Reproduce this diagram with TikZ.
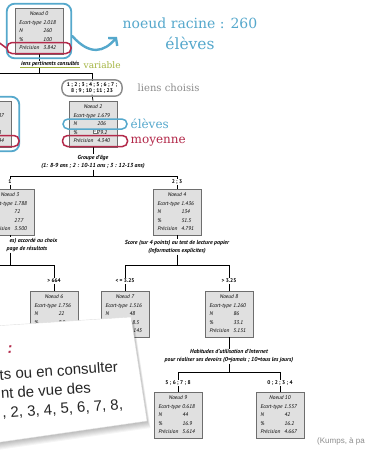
\documentclass[tikz,border=0pt]{standalone}
\usepackage{fontspec}
\setmainfont{PT Sans}
\newfontfamily\notefont{DejaVu Serif}
\newfontfamily\slidefont{Liberation Sans}
\usetikzlibrary{arrows.meta,fit,calc}

\definecolor{noteblue}{HTML}{55A8CC}
\definecolor{notered}{HTML}{B3294A}
\definecolor{notegreen}{HTML}{A3B440}
\definecolor{notegray}{HTML}{8C8C8C}
\definecolor{cellfill}{HTML}{E0E0E0}
\definecolor{cellline}{HTML}{6E6E6E}

% body of one tree cell: title row, then label / value rows
\newcommand{\spssnode}[5]{%
  \begin{tabular}{@{}p{24pt}@{}p{15pt}@{}}
    \multicolumn{2}{@{}c@{}}{Noeud #1}\\
    Ecart-type & #2\\
    N & #3\\
    \% & #4\\
    Précision & #5
  \end{tabular}}

\tikzset{
  treebox/.style={draw=cellline, fill=cellfill, line width=0.6pt, inner xsep=4pt, inner ysep=1.5pt,
    minimum width=48pt, font=\fontsize{5.4}{8.6}\selectfont\itshape},
  splitvar/.style={font=\fontsize{5.8}{8}\selectfont\bfseries\itshape, inner sep=0.6pt, align=center},
  catlabel/.style={font=\fontsize{5.4}{6.6}\selectfont\bfseries, inner sep=0.8pt, align=center},
  branch/.style={line width=0.75pt},
  bluering/.style={draw=noteblue, line width=1.8pt, rounded corners=8pt},
  redpill/.style={draw=notered, line width=1.5pt, rounded corners=5pt},
  bluepill/.style={draw=noteblue, line width=1.5pt, rounded corners=5pt},
  graypill/.style={draw=notegray, line width=1.4pt, rounded corners=7pt},
  note/.style={inner sep=0.5pt},
}

\begin{document}
\begin{tikzpicture}[x=1pt,y=-1pt]
\useasboundingbox (0,0) rectangle (366,450);
\fill[white] (0,0) rectangle (366,450);

% ---- tree cells
\node[treebox] (n0) at (39,31) {\spssnode{0}{2.018}{260}{100}{3.842}};
\node[treebox] (n1) at (-13,124) {\spssnode{1}{2.087}{54}{20.8}{1.944}};
\node[treebox] (n2) at (93,124) {\spssnode{2}{1.679}{206}{79.2}{4.340}};
\node[treebox] (n3) at (10,212) {\spssnode{3}{1.788}{72}{27.7}{3.500}};
\node[treebox] (n4) at (177,212) {\spssnode{4}{1.436}{134}{51.5}{4.791}};
\node[treebox] (n6) at (54,314) {\spssnode{6}{1.756}{22}{8.5}{}};
\node[treebox] (n7) at (125,314) {\spssnode{7}{1.516}{48}{18.5}{4.145}};
\node[treebox] (n8) at (229,314) {\spssnode{8}{1.260}{86}{33.1}{5.151}};
\node[treebox] (n9) at (178,415) {\spssnode{9}{0.618}{44}{16.9}{5.614}};
\node[treebox] (n10) at (280,415) {\spssnode{10}{1.557}{42}{16.2}{4.667}};

% collapse marker inside cell 2
\node[draw=cellline, fill=white, line width=0.4pt, minimum size=4.5pt, inner sep=0pt] (fold2) at (95,131) {};
\fill (fold2.center) circle (0.6);

% ---- split variables and category labels
\node[splitvar, anchor=east] (v0) at (80,64) {iens pertinents consultés};
\node[catlabel] (c2) at (92,88) {1 ; 2 ; 3 ; 4 ; 5 ; 6 ; 7 ;\\8 ; 9 ; 10 ; 11 ; 23};
\node[splitvar] (v2) at (93,162) {Groupe d'âge\\(1: 8-9 ans ; 2 : 10-11 ans ; 3 : 12-13 ans)};
\node[catlabel] (c3) at (10,182) {1};
\node[catlabel] (c4) at (177,182) {2 ; 3};
\node[splitvar, anchor=east] (v3a) at (58,241) {es) accordé au choix};
\node[splitvar, anchor=east] (v3b) at (48,249) {page de résultats};
\node[splitvar] (v4) at (177,247) {Score (sur 4 points) au test de lecture papier\\(Informations explicites)};
\node[catlabel] (c6) at (54,281) {> 664};
\node[catlabel] (c7) at (125,281) {< = 3.25};
\node[catlabel] (c8) at (229,281) {> 3.25};
\node[splitvar] (v8) at (229,356) {Habitudes d'utilisation d'Internet\\pour réaliser ses devoirs (0=jamais ; 10=tous les jours)};
\node[catlabel] (c9) at (178,383) {5 ; 6 ; 7 ; 8};
\node[catlabel] (c10) at (280,383) {0 ; 2 ; 3 ; 4};

% ---- bar heights
\coordinate (b0) at (0,73);
\coordinate (b2) at (0,176);
\coordinate (b3) at (0,265);
\coordinate (b4) at (0,265);
\coordinate (b8) at (0,372);
\coordinate (n5top) at (-34,290);

% ---- branches
\draw[branch] (n0.south) -- (v0.north -| n0.south);
\draw[branch] (v0.south -| n0.south) -- (b0 -| n0.south);
\draw[branch] (n1.north) -- (b0 -| n1.north) -- (b0 -| c2.north) -- (c2.north);
\draw[branch] (c2.south) -- (n2.north);

\draw[branch] (n2.south) -- (v2.north);
\draw[branch] (v2.south) -- (b2 -| v2.south);
\draw[branch] (c3.north) -- (b2 -| c3.north) -- (b2 -| c4.north) -- (c4.north);
\draw[branch] (c3.south) -- (n3.north);
\draw[branch] (c4.south) -- (n4.north);

\draw[branch] (n3.south) -- (v3a.north -| n3.south);
\draw[branch] (v3b.south -| n3.south) -- (b3 -| n3.south);
\draw[branch] (n5top) -- (b3 -| n5top) -- (b3 -| c6.north) -- (c6.north);
\draw[branch] (c6.south) -- (n6.north);

\draw[branch] (n4.south) -- (v4.north);
\draw[branch] (v4.south) -- (b4 -| v4.south);
\draw[branch] (c7.north) -- (b4 -| c7.north) -- (b4 -| c8.north) -- (c8.north);
\draw[branch] (c7.south) -- (n7.north);
\draw[branch] (c8.south) -- (n8.north);

\draw[branch] (n8.south) -- (v8.north);
\draw[branch] (v8.south) -- (b8 -| v8.south);
\draw[branch] (c9.north) -- (b8 -| c9.north) -- (b8 -| c10.north) -- (c10.north);
\draw[branch] (c9.south) -- (n9.north);
\draw[branch] (c10.south) -- (n10.north);

% ---- hand-drawn highlights
\node[fit=(n0), inner xsep=8pt, inner ysep=4pt, bluering] (hl0) {};
\node[redpill, minimum width=64pt, minimum height=11pt] (hlp0) at (39,48) {};
\node[fit=(n1), inner xsep=8pt, inner ysep=4pt, bluering] (hl1) {};
\node[redpill, minimum width=64pt, minimum height=11pt] (hlp1) at (-13,141) {};
\node[bluepill, minimum width=64pt, minimum height=10pt] (hln2) at (95,124) {};
\node[redpill, minimum width=65pt, minimum height=11pt] (hlp2) at (95,141) {};
\node[fit=(c2), inner xsep=4pt, inner ysep=1.5pt, graypill] (hlc2) {};
\draw[notegreen, line width=0.8pt] (v0.south west) -- (v0.south east);

\coordinate (redin) at (-3,41);
\draw[notered, line width=1.5pt] (redin) -- (hlp0.west);

% ---- notes
\node[note, text=noteblue, font={\notefont\fontsize{14}{20}\selectfont}] (rootnote) at (190,23) {noeud racine : 260};
\node[note, text=noteblue, font={\notefont\fontsize{15.5}{18}\selectfont}] (rootnote2) at (190,43) {élèves};
\coordinate (tipA) at (117,37);
\draw[noteblue, line width=2.4pt, line cap=round, -{Straight Barb[length=5pt,width=12pt]}]
  ([yshift=-5pt]hl0.east) .. controls (90,56) and (104,52) .. (tipA);
\node[note, text=notegreen, font={\notefont\fontsize{9}{10}\selectfont}, anchor=west] (varnote) at (83,65) {variable};
\node[note, text=notegray, font={\notefont\fontsize{10}{11}\selectfont}, anchor=west] (choicenote) at (137,88) {liens choisis};
\node[note, text=noteblue, font={\notefont\fontsize{12}{13}\selectfont}, anchor=west] (pupilnote) at (130,124) {élèves};
\node[note, text=notered, font={\notefont\fontsize{12}{13}\selectfont}, anchor=west] (meannote) at (130,142) {moyenne};

% ---- overlapping slide card
\coordinate (k1) at (-6,326);
\coordinate (k2) at (131,317);
\coordinate (k3) at (147,421);
\coordinate (k4) at (-6,443);
\foreach \s in {1,...,7}
  \fill[black, opacity=0.04] ([shift={(0.5*\s,1.0*\s)}]k1) -- ([shift={(0.5*\s,1.0*\s)}]k2)
     -- ([shift={(0.5*\s,1.0*\s)}]k3) -- ([shift={(0.5*\s,1.0*\s)}]k4) -- cycle;
\fill[white] (k1) -- (k2) -- (k3) -- (k4) -- cycle;
\draw[black!12, line width=0.4pt] (k1) -- (k2) -- (k3) -- (k4);
\node[text=notered, font={\slidefont\bfseries\itshape\fontsize{15}{15}\selectfont}, rotate=4, inner sep=0] (cardcolon) at (10,350) {:};
\node[text=black!85, font={\slidefont\fontsize{15}{19}\selectfont}, anchor=north west, rotate=4, align=left, inner sep=0] (cardtxt) at (-1,369)
  {ts ou en consulter\\nt de vue des\\, 2, 3, 4, 5, 6, 7, 8,};

\node[text=black!45, font={\slidefont\fontsize{8}{9}\selectfont}, anchor=west, inner sep=0] (credit) at (317,441) {(Kumps, à pa};
\end{tikzpicture}
\end{document}
